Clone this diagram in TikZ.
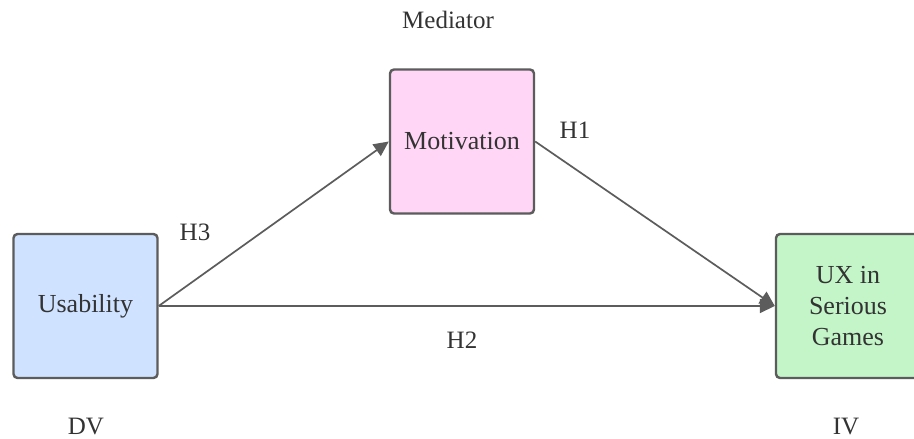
\documentclass[tikz,border=0pt]{standalone}
\usepackage{fontspec}
\setmainfont{Liberation Serif}
\usetikzlibrary{arrows.meta}
\definecolor{txt}{HTML}{333333}
\definecolor{edge}{HTML}{5C5C5C}
\definecolor{bluefill}{HTML}{CFE2FF}
\definecolor{pinkfill}{HTML}{FFD6F6}
\definecolor{greenfill}{HTML}{C4F5C8}
\tikzset{
  box/.style={draw=edge, line width=2.4pt, rounded corners=4pt, minimum width=144pt, minimum height=144pt, inner sep=0pt, align=center, text=txt, font=\fontsize{26}{31}\selectfont},
  lbl/.style={text=txt, font=\fontsize{25}{30}\selectfont, inner sep=0pt},
  conn/.style={draw=edge, line width=1.7pt, -{Triangle[length=15pt,width=14pt]}}
}
\begin{document}
\begin{tikzpicture}[x=1pt,y=1pt]
\useasboundingbox (0,0) rectangle (914,439);
\clip (0,0) rectangle (914,439);
\fill[white] (0,0) rectangle (914,439);
\node[box, fill=bluefill] (usa) at (85.5,133) {Usability};
\node[box, fill=pinkfill] (mot) at (462,297.5) {Motivation};
\node[box, fill=greenfill] (ux) at (848,133) {UX in\\Serious\\Games};
\draw[conn] (usa.east) -- (mot.west);
\draw[conn] (mot.east) -- (ux.west);
\draw[conn] (usa.east) -- (ux.west);
\node[lbl] (med) at (448,419) {Mediator};
\node[lbl] (h1) at (575,309) {H1};
\node[lbl] (h3) at (195,207) {H3};
\node[lbl] (h2) at (462,99) {H2};
\node[lbl] (dv) at (86,12) {DV};
\node[lbl] (iv) at (846,12) {IV};
\end{tikzpicture}
\end{document}
